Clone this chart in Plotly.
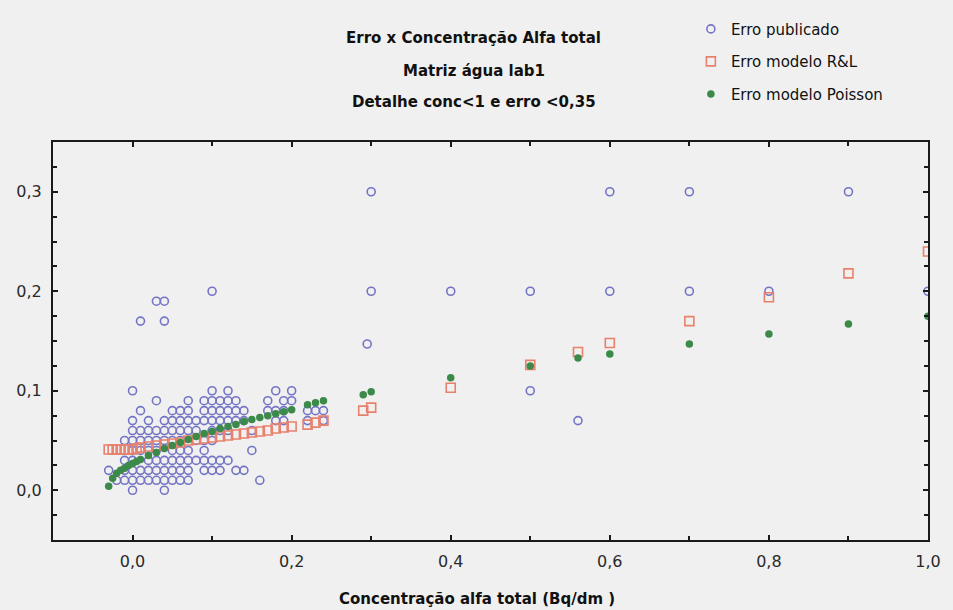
import plotly.graph_objects as go

# ---------------- data ----------------
# Erro publicado: for each error level, the concentrations observed
pub_levels = [0.30, 0.20, 0.19, 0.17, 0.147, 0.10, 0.09, 0.08, 0.07, 0.06, 0.05, 0.04, 0.03, 0.02, 0.01, 0.00]
pub_conc_by_level = [
    [0.30, 0.60, 0.70, 0.90],
    [0.10, 0.30, 0.40, 0.50, 0.60, 0.70, 0.80, 1.00],
    [0.03, 0.04],
    [0.01, 0.04],
    [0.295],
    [0.00, 0.10, 0.12, 0.18, 0.20, 0.50],
    [0.03, 0.07, 0.09, 0.10, 0.11, 0.12, 0.13, 0.17, 0.19, 0.20],
    [0.01, 0.05, 0.06, 0.07, 0.09, 0.10, 0.11, 0.12, 0.13, 0.14, 0.17, 0.18, 0.19, 0.22, 0.23, 0.24],
    [0.00, 0.02, 0.04, 0.05, 0.06, 0.07, 0.08, 0.09, 0.10, 0.11, 0.12, 0.13, 0.14, 0.18, 0.19, 0.22, 0.24, 0.56],
    [0.00, 0.01, 0.02, 0.03, 0.04, 0.05, 0.06, 0.07, 0.08, 0.10, 0.11, 0.12, 0.15],
    [-0.01, 0.00, 0.01, 0.02, 0.03, 0.04, 0.05, 0.06, 0.08, 0.09, 0.10],
    [0.00, 0.01, 0.02, 0.03, 0.05, 0.06, 0.07, 0.09, 0.15],
    [-0.01, 0.00, 0.02, 0.03, 0.04, 0.05, 0.06, 0.07, 0.08, 0.09, 0.10, 0.11, 0.12],
    [-0.03, -0.01, 0.00, 0.01, 0.02, 0.03, 0.04, 0.05, 0.06, 0.07, 0.09, 0.10, 0.11, 0.13, 0.14],
    [-0.02, -0.01, 0.00, 0.01, 0.02, 0.03, 0.04, 0.05, 0.06, 0.07, 0.16],
    [0.00, 0.04],
]

# model concentrations and model errors
model_conc = [-0.03, -0.025, -0.02, -0.015, -0.01, -0.005, 0.00, 0.005, 0.01, 0.02, 0.03, 0.04,
              0.05, 0.06, 0.07, 0.08, 0.09, 0.10, 0.11, 0.12, 0.13, 0.14, 0.15, 0.16, 0.17, 0.18,
              0.19, 0.20, 0.22, 0.23, 0.24, 0.29, 0.30, 0.40, 0.50, 0.56, 0.60, 0.70, 0.80, 0.90, 1.00]
err_rl = [0.041, 0.041, 0.041, 0.041, 0.041, 0.041, 0.041, 0.042, 0.043, 0.044, 0.045, 0.046,
          0.047, 0.048, 0.050, 0.051, 0.052, 0.053, 0.054, 0.055, 0.056, 0.057, 0.058, 0.059,
          0.060, 0.062, 0.063, 0.064, 0.066, 0.068, 0.070, 0.080, 0.083, 0.103, 0.126, 0.139,
          0.148, 0.170, 0.194, 0.218, 0.240]
err_poisson = [0.004, 0.012, 0.017, 0.020, 0.022, 0.025, 0.027, 0.029, 0.031, 0.035, 0.038, 0.042,
               0.045, 0.048, 0.051, 0.054, 0.057, 0.059, 0.062, 0.064, 0.066, 0.069, 0.071, 0.073,
               0.075, 0.077, 0.079, 0.081, 0.086, 0.088, 0.090, 0.096, 0.099, 0.113, 0.125, 0.133,
               0.137, 0.147, 0.157, 0.167, 0.175]

x_tick_vals = [0.0, 0.2, 0.4, 0.6, 0.8, 1.0]
y_tick_vals = [0.0, 0.1, 0.2, 0.3]

title_lines = ["Erro x Concentração Alfa total", "Matriz água lab1", "Detalhe conc<1 e erro <0,35"]
x_title = "Concentração alfa total (Bq/dm )"
series_names = ["Erro publicado", "Erro modelo R&L", "Erro modelo Poisson"]

# ---------------- build ----------------
pub_x, pub_y = [], []
for lvl, xs in zip(pub_levels, pub_conc_by_level):
    for xv in xs:
        pub_x.append(xv)
        pub_y.append(lvl)

FONT = "DejaVu Sans, Verdana, sans-serif"
BG = "#f0f0f0"

fig = go.Figure()
fig.add_trace(go.Scatter(
    x=pub_x, y=pub_y, mode="markers", name=series_names[0], legendgroup="a",
    marker=dict(symbol="circle-open", size=8, color="#7474c6", line=dict(width=1.6)),
))
fig.add_trace(go.Scatter(
    x=model_conc, y=err_rl, mode="markers", name=series_names[1], legendgroup="b",
    marker=dict(symbol="square-open", size=9, color="#e8806c", line=dict(width=1.6)),
))
fig.add_trace(go.Scatter(
    x=model_conc, y=err_poisson, mode="markers", name=series_names[2], legendgroup="c",
    marker=dict(symbol="circle", size=7.5, color="#3b8a4a"),
))

axis_common = dict(
    showline=True, linecolor="#1a1a1a", linewidth=2, mirror="ticks",
    ticks="inside", ticklen=5, tickwidth=1.5, tickcolor="#1a1a1a",
    showgrid=False, zeroline=False, tickformat=".1f",
    tickfont=dict(family=FONT, size=16, color="#2a2a2a"),
)

fig.update_layout(
    width=953, height=610,
    margin=dict(l=53, r=17, t=134, b=70),
    paper_bgcolor=BG, plot_bgcolor=BG,
    separators=",.",
    font=dict(family=FONT, color="#111"),
    xaxis=dict(range=[-0.1, 1.0], tickvals=x_tick_vals, ticklabelstandoff=6,
               minor=dict(dtick=0.1, ticks="inside", ticklen=4, tickcolor="#1a1a1a"),
               **axis_common),
    yaxis=dict(range=[-0.05, 0.35], tickvals=y_tick_vals, ticklabelstandoff=6,
               minor=dict(dtick=0.025, ticks="inside", ticklen=4, tickcolor="#1a1a1a"),
               **axis_common),
    showlegend=True,
    legend=dict(x=0.729, y=1.325, xanchor="left", yanchor="top",
                bgcolor="rgba(0,0,0,0)", tracegroupgap=10, traceorder="grouped",
                font=dict(family=FONT, size=15, color="#111")),
)

for i, (line, yp) in enumerate(zip(title_lines, [1.2611, 1.1773, 1.101])):
    fig.add_annotation(text="<b>" + line + "</b>", x=0.481, y=yp, xref="paper", yref="paper",
                       xanchor="center", yanchor="middle", showarrow=False,
                       font=dict(family=FONT, size=15, color="#111"))

fig.add_annotation(text="<b>" + x_title + "</b>", x=0.4847, y=-0.1478, xref="paper", yref="paper",
                   xanchor="center", yanchor="middle", showarrow=False,
                   font=dict(family=FONT, size=15, color="#111"))

fig.write_html("out.html")
